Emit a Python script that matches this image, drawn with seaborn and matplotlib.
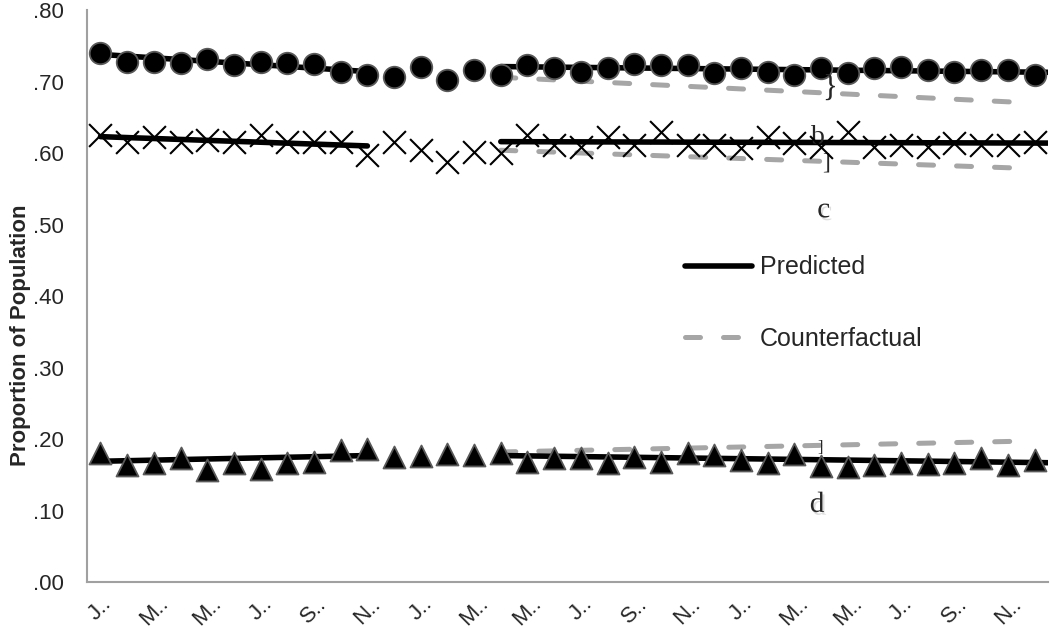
import numpy as np
import pandas as pd
import matplotlib
matplotlib.use('Agg')
import matplotlib.pyplot as plt
import matplotlib.patheffects as pe
from matplotlib.lines import Line2D
import seaborn as sns

# monthly observations, 3 years (Jan..Dec)
months = list(range(36))
tick_labels = ['J..', 'M..', 'M..', 'J..', 'S..', 'N..'] * 3

circle_vals = [0.740, 0.727, 0.727, 0.726, 0.731, 0.723, 0.728, 0.726, 0.725, 0.713, 0.709, 0.706,
               0.720, 0.702, 0.716, 0.709, 0.723, 0.719, 0.713, 0.719, 0.724, 0.723, 0.723, 0.712,
               0.719, 0.713, 0.709, 0.719, 0.712, 0.719, 0.720, 0.716, 0.713, 0.716, 0.716, 0.709]
cross_vals = [0.625, 0.615, 0.622, 0.615, 0.618, 0.615, 0.625, 0.615, 0.615, 0.615, 0.597, 0.615,
              0.604, 0.587, 0.601, 0.600, 0.625, 0.611, 0.608, 0.622, 0.611, 0.629, 0.611, 0.611,
              0.607, 0.622, 0.614, 0.608, 0.629, 0.608, 0.611, 0.608, 0.614, 0.611, 0.611, 0.615]
tri_vals = [0.180, 0.164, 0.166, 0.173, 0.157, 0.166, 0.158, 0.166, 0.168, 0.185, 0.186, 0.175,
            0.176, 0.179, 0.178, 0.180, 0.168, 0.173, 0.173, 0.166, 0.175, 0.168, 0.180, 0.178,
            0.171, 0.166, 0.179, 0.162, 0.161, 0.164, 0.166, 0.165, 0.166, 0.173, 0.164, 0.171]

# trend lines: (start month, end month) and (start value, end value)
pre_x = [0, 10]
post_x = [15, 35.5]
cf_x = [15, 34.4]
circle_pre = [0.738, 0.714]
circle_post = [0.721, 0.713]
circle_cf = [0.706, 0.671]
cross_pre = [0.623, 0.610]
cross_post = [0.616, 0.614]
cross_cf = [0.604, 0.579]
tri_pre = [0.169, 0.177]
tri_post = [0.177, 0.167]
tri_cf = [0.182, 0.197]

df = pd.DataFrame({'month': months, 'circle': circle_vals, 'cross': cross_vals, 'tri': tri_vals})

sns.set_theme(style='white')
plt.rcParams['font.family'] = ['Liberation Sans', 'DejaVu Sans']

fig, ax = plt.subplots(figsize=(10.5, 6.3), dpi=100)
fig.subplots_adjust(left=0.083, right=0.998, bottom=0.076, top=0.984)

black = '#000000'
grey = '#a6a6a6'
dash = (0, (3.0, 4.6))

for pre, post, cf in [(circle_pre, circle_post, circle_cf),
                      (cross_pre, cross_post, cross_cf),
                      (tri_pre, tri_post, tri_cf)]:
    sns.lineplot(x=pre_x, y=pre, color=black, linewidth=4, ax=ax, zorder=2)
    sns.lineplot(x=post_x, y=post, color=black, linewidth=4, ax=ax, zorder=2)
    l = sns.lineplot(x=cf_x, y=cf, color=grey, linewidth=3.6, ax=ax, zorder=1).lines[-1]
    l.set_linestyle(dash)
    l.set_dash_capstyle('round')

sns.scatterplot(data=df, x='month', y='circle', marker='o', s=240, color=black,
                edgecolor='#595959', linewidth=1.3, ax=ax, zorder=3)
sns.scatterplot(data=df, x='month', y='cross', marker='x', s=270, color=black,
                linewidth=1.5, ax=ax, zorder=3)
sns.scatterplot(data=df, x='month', y='tri', marker='^', s=250, color=black,
                edgecolor='#595959', linewidth=1.3, ax=ax, zorder=3)

# annotations
serif = ['Liberation Serif', 'DejaVu Serif']
shadow = [pe.SimplePatchShadow(offset=(1.5, -2), shadow_rgbFace='0.75', alpha=0.5), pe.Normal()]
ax.text(27.3, 0.690, '}', family=serif, fontsize=22, ha='center', va='center', zorder=4)
ax.text(26.9, 0.622, 'b', family=serif, fontsize=20, ha='center', va='center', zorder=2)
ax.text(27.2, 0.586, ']', family=serif, fontsize=17, ha='center', va='center', zorder=2)
ax.text(27.1, 0.520, 'c', family=serif, fontsize=21, ha='center', va='center', path_effects=shadow)
ax.text(26.95, 0.188, ']', family=serif, fontsize=12, ha='center', va='center', zorder=2)
ax.text(26.85, 0.108, 'd', family=serif, fontsize=21, ha='center', va='center', path_effects=shadow)

ax.set_xlim(-0.5, 35.5)
ax.set_ylim(0, 0.8)
ax.set_yticks(np.arange(0, 0.81, 0.1))
ax.set_yticklabels([('%.2f' % v)[1:] for v in np.arange(0, 0.81, 0.1)])
ax.set_xticks(months[::2])
ax.set_xticklabels(tick_labels, rotation=45, ha='center')
ax.tick_params(axis='y', length=0, pad=17, labelsize=16)
ax.tick_params(axis='x', length=0, pad=8, labelsize=16)
ax.set_xlabel('')
ax.set_ylabel('Proportion of Population', fontsize=16, fontweight='bold')
ax.yaxis.set_label_coords(-0.058, 0.432)

for s in ['top', 'right']:
    ax.spines[s].set_visible(False)
for s in ['left', 'bottom']:
    ax.spines[s].set_color('#a0a0a0')
    ax.spines[s].set_linewidth(1.5)

handles = [Line2D([], [], color=black, linewidth=4),
           Line2D([], [], color=grey, linewidth=3.6, linestyle=dash, dash_capstyle='round')]
ax.legend(handles, ['Predicted', 'Counterfactual'], loc='upper left', bbox_to_anchor=(0.622, 0.571),
          frameon=False, fontsize=18, handlelength=2.7, handletextpad=0.3, labelspacing=1.9,
          borderpad=0, borderaxespad=0)

plt.savefig('out.png', dpi=100)
